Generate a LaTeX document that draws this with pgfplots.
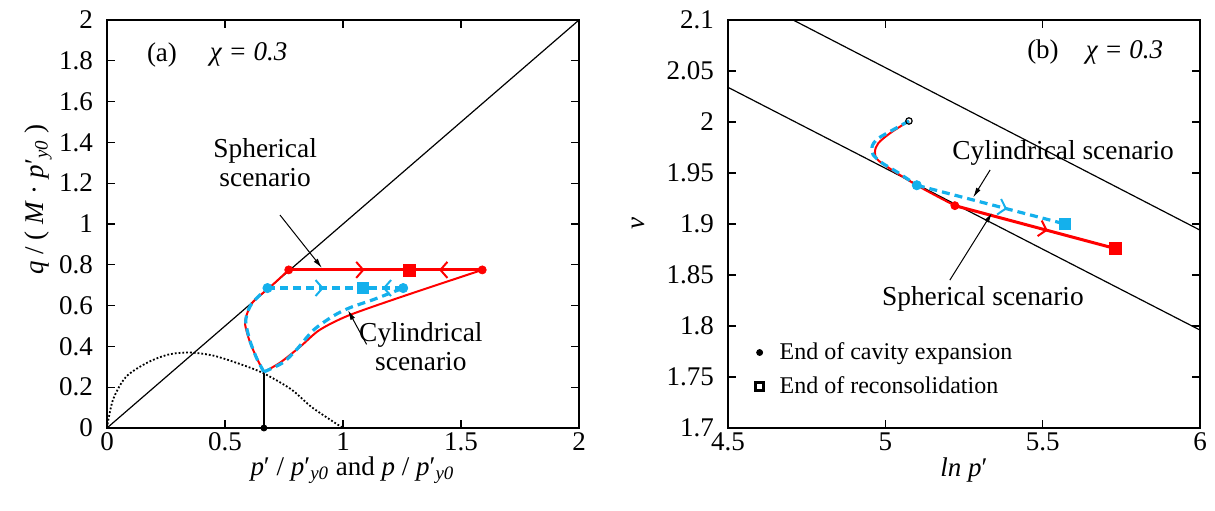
\documentclass[border=0pt]{standalone}
\usepackage{fontspec}
\setmainfont{Liberation Serif}
\usepackage{pgfplots}
\pgfplotsset{compat=1.18}
\usetikzlibrary{arrows.meta,decorations.markings}

\definecolor{cred}{RGB}{255,0,0}
\definecolor{cblue}{RGB}{20,176,236}

\tikzset{
  midarrow/.style={postaction={decorate},
    decoration={markings, mark=at position #1 with {\arrow[solid,line width=1pt]{Straight Barb[length=3.5pt,width=8pt]}}}},
  annot/.style={black, line width=0.5pt, -{Latex[length=5pt,width=2.5pt]}},
}
\newcommand{\fs}[1]{\fontsize{#1}{#1}\selectfont}

\pgfplotsset{myax/.style={
  scale only axis, width=236pt, height=204pt,
  tick align=inside, major tick length=4pt,
  axis line style={line width=0.9pt},
  every tick/.style={black,line width=0.6pt},
  tick label style={font=\fs{13.5}},
  yticklabel style={xshift=-3.5pt},
  xticklabel style={yshift=-1pt, inner sep=1pt},
  /pgf/number format/assume math mode=true,
  label style={font=\fs{13.5}},
  minor tick num=0,
}}

\begin{document}
\begin{tikzpicture}
% ---------------- (a) ----------------
\begin{axis}[myax, at={(0,0)},
  xmin=0, xmax=2, ymin=0, ymax=2,
  xtick={0,0.5,1,1.5,2},
  ytick={0,0.2,0.4,0.6,0.8,1,1.2,1.4,1.6,1.8,2},
  xlabel={\textit{p}′ / \textit{p}′\textsubscript{\textit{y0}} and \textit{p} / \textit{p}′\textsubscript{\textit{y0}}},
  xlabel style={at={(axis description cs:0.52,-0.104)}, anchor=center, inner sep=0pt},
  ylabel={\textit{q} / ( \textit{M} · \textit{p}′\textsubscript{\textit{y0}} )},
  ylabel style={at={(axis description cs:-0.146,0.56)}, anchor=center},
]
\addplot[black, line width=0.6pt] coordinates {(0,0) (2,2)};
\addplot[black, densely dotted, line width=0.9pt, smooth] coordinates {
 (0,0) (0.025,0.137) (0.08,0.25) (0.17,0.32) (0.26,0.36) (0.35,0.37) (0.45,0.355)
 (0.56,0.315) (0.66,0.27) (0.78,0.19) (0.87,0.10) (1.0,0)};
\addplot[black, line width=1pt] coordinates {(0.665,0) (0.665,0.275)};
\addplot[only marks, black, mark=*, mark size=1.5pt] coordinates {(0.665,0)};
% red paths
\addplot[cred, line width=1pt, smooth, tension=0.45] coordinates {
 (0.665,0.275) (0.64,0.33) (0.606,0.42) (0.585,0.51) (0.595,0.565) (0.62,0.62) (0.70,0.70) (0.77,0.775)};
\addplot[cred, line width=1pt, smooth, tension=0.45] coordinates {
 (0.665,0.275) (0.733,0.32) (0.82,0.40) (0.90,0.48) (1.02,0.55) (1.24,0.64) (1.59,0.775)};
% blue paths
\addplot[cblue, line width=1.6pt, dash pattern=on 4pt off 2.5pt, smooth, tension=0.45] coordinates {
 (0.665,0.275) (0.635,0.34) (0.605,0.43) (0.588,0.52) (0.598,0.575) (0.62,0.62) (0.68,0.686)};
\addplot[cblue, line width=1.6pt, dash pattern=on 4pt off 2.5pt, smooth, tension=0.45] coordinates {
 (0.665,0.275) (0.745,0.32) (0.80,0.38) (0.875,0.48) (0.96,0.55) (1.03,0.59) (1.13,0.63) (1.255,0.686)};
% horizontal segments
\addplot[cred, line width=1.5pt, midarrow=0.63] coordinates {(0.77,0.775) (1.28,0.775)};
\addplot[cred, line width=1.5pt, midarrow=0.59] coordinates {(1.59,0.775) (1.28,0.775)};
\addplot[cblue, line width=1.6pt, dash pattern=on 4pt off 2.5pt, midarrow=0.59] coordinates {(0.68,0.686) (1.085,0.686)};
\addplot[cblue, line width=1.6pt, dash pattern=on 4pt off 2.5pt, midarrow=0.51] coordinates {(1.255,0.686) (1.085,0.686)};
% markers
\addplot[only marks, cred, mark=*, mark size=2pt] coordinates {(0.77,0.775) (1.59,0.775)};
\addplot[only marks, cred, mark=square*, mark size=3pt] coordinates {(1.28,0.775)};
\addplot[only marks, cblue, mark=*, mark size=2.3pt] coordinates {(0.68,0.686) (1.255,0.686)};
\addplot[only marks, cblue, mark=square*, mark size=2.6pt] coordinates {(1.085,0.686)};
% annotations
\node[font=\fs{13.5}] at (axis cs:0.233,1.83) {(a)};
\node[font=\fs{13.5}] at (axis cs:0.60,1.83) {\textit{χ = 0.3}};
\node[font=\fs{13.7}, align=center, inner sep=0pt] at (axis cs:0.67,1.30) {Spherical\\[1pt]scenario};
\draw[annot] (axis cs:0.733,1.044) -- (axis cs:0.911,0.784);
\node[font=\fs{13.7}, align=center, inner sep=0pt] at (axis cs:1.33,0.40) {Cylindrical\\[1pt]scenario};
\draw[annot] (axis cs:1.10,0.41) -- (axis cs:1.021,0.578);
\end{axis}

% ---------------- (b) ----------------
\begin{axis}[myax, at={(310.5pt,0)},
  xmin=4.5, xmax=6, ymin=1.7, ymax=2.1,
  xtick={4.5,5,5.5,6},
  ytick={1.7,1.75,1.8,1.85,1.9,1.95,2,2.05,2.1},
  yticklabels={1.7,1.75,1.8,1.85,1.9,1.95,2,2.05,2.1},
  xticklabels={4.5,5,5.5,6},
  xlabel={\textit{ln p}′},
  xlabel style={at={(axis description cs:0.5,-0.104)}, anchor=center, inner sep=0pt},
  ylabel={\textit{v}},
  ylabel style={at={(axis description cs:-0.19,0.5)}, anchor=center},
  legend style={at={(rel axis cs:0.045,0.23)}, anchor=north west, draw=none, fill=none,
    font=\fs{12}, row sep=3pt, column sep=6pt},
  legend cell align=left,
]
\addlegendimage{only marks, black, mark=*, mark size=1.5pt}
\addlegendentry{End of cavity expansion}
\addlegendimage{only marks, black, mark=square, mark size=2pt, line width=1.2pt}
\addlegendentry{End of reconsolidation}

\addplot[forget plot, black, line width=0.6pt] coordinates {(4.707,2.1) (6,1.894)};
\addplot[forget plot, black, line width=0.6pt] coordinates {(4.5,2.034) (6,1.796)};
\addplot[forget plot, cred, line width=1pt, smooth, tension=0.5] coordinates {
 (5.075,2.001) (5.015,1.989) (4.977,1.979) (4.967,1.970) (4.983,1.961) (5.10,1.938) (5.221,1.918)};
\addplot[forget plot, cblue, line width=1.6pt, dash pattern=on 4pt off 2.5pt, smooth, tension=0.5] coordinates {
 (5.075,2.001) (5.040,1.995) (5.005,1.989) (4.973,1.983) (4.958,1.976) (4.961,1.968) (4.989,1.960) (5.037,1.951) (5.10,1.938)};
\addplot[forget plot, cred, line width=1.5pt, midarrow=0.58] coordinates {(5.221,1.918) (5.73,1.876)};
\addplot[forget plot, cblue, line width=1.6pt, dash pattern=on 4pt off 2.5pt, midarrow=0.61] coordinates {(5.10,1.938) (5.571,1.90)};
\addplot[forget plot, only marks, cred, mark=*, mark size=2pt] coordinates {(5.221,1.918)};
\addplot[forget plot, only marks, cred, mark=square*, mark size=3pt] coordinates {(5.73,1.876)};
\addplot[forget plot, only marks, cblue, mark=*, mark size=2.3pt] coordinates {(5.10,1.938)};
\addplot[forget plot, only marks, cblue, mark=square*, mark size=2.6pt] coordinates {(5.571,1.90)};
\addplot[forget plot, only marks, black, mark=o, mark size=1.6pt, line width=0.6pt] coordinates {(5.075,2.001)};

\node[font=\fs{13.5}] at (axis cs:5.501,2.0686) {(b)};
\node[font=\fs{13.5}] at (axis cs:5.76,2.0686) {\textit{χ = 0.3}};
\node[font=\fs{13.7}, inner sep=0pt] at (axis cs:5.565,1.9696) {Cylindrical scenario};
\draw[annot] (axis cs:5.333,1.953) -- (axis cs:5.279,1.926);
\node[font=\fs{13.7}, inner sep=0pt] at (axis cs:5.310,1.8265) {Spherical scenario};
\draw[annot] (axis cs:5.205,1.845) -- (axis cs:5.339,1.911);
\end{axis}
\pgfresetboundingbox
\useasboundingbox (-53.5pt,-41pt) rectangle (554pt,214pt);
\end{tikzpicture}
\end{document}
